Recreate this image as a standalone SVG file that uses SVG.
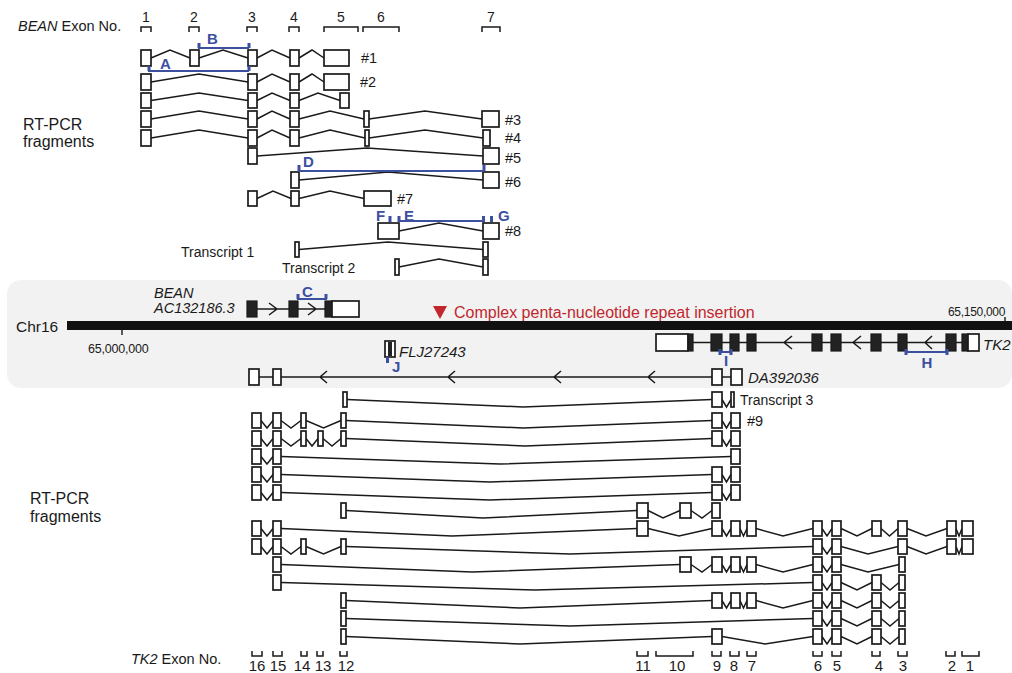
<svg xmlns="http://www.w3.org/2000/svg" width="1012" height="673" viewBox="0 0 1012 673">
<style>
.ex{fill:#fff;stroke:#1a1a1a;stroke-width:1.7}
.dk{fill:#222;stroke:#1a1a1a;stroke-width:1.2}
.in{fill:none;stroke:#1a1a1a;stroke-width:1.5}
.bl{fill:none;stroke:#3d4f9f;stroke-width:2}
.bk{fill:none;stroke:#3d4f9f;stroke-width:3}
.br{fill:none;stroke:#1a1a1a;stroke-width:1.5}
.t{font-family:"Liberation Sans",Arial,sans-serif;fill:#1a1a1a}
.i{font-style:italic}
.bt{font-family:"Liberation Sans",Arial,sans-serif;font-weight:bold;fill:#3d4f9f;font-size:15px}
</style>
<rect x="0" y="0" width="1012" height="673" fill="#fff"/>

<!-- top exon numbering -->
<g id="bean-exon-no">
<text class="t" x="18" y="31" font-size="14.5"><tspan class="i">BEAN</tspan> Exon No.</text>
<g class="t" font-size="14" text-anchor="middle">
<text x="146" y="22">1</text><text x="194" y="22">2</text><text x="252" y="22">3</text><text x="294" y="22">4</text><text x="341" y="22">5</text><text x="381" y="22">6</text><text x="491" y="22">7</text>
</g>
<path class="br" d="M141,32V27H151V32M189,32V27H199V32M247,32V27H257V32M289,32V27H299V32M324,32V27H358V32M363,32V27H399V32M482,32V27H500V32"/>
</g>

<g id="labels">
<text class="t" x="23" y="130" font-size="16">RT-PCR</text>
<text class="t" x="23" y="147" font-size="16">fragments</text>
<text class="t" x="30" y="504" font-size="16">RT-PCR</text>
<text class="t" x="30" y="522" font-size="16">fragments</text>
</g>

<!-- connectors (introns) -->
<g id="connectors" class="in">
<path d="M151,58L170,50L190,58M199,58L223,50L248,58M257,58L272,50L290,58M299,58L312,50L324,58"/>
<path d="M151,82L199,74L248,82M257,82L272,74L290,82M299,82L312,74L324,82"/>
<path d="M151,100.5L199,93L248,100.5M257,100.5L272,93L290,100.5M299,100.5L318,93L340,100.5"/>
<path d="M151,119L199,111L248,119M257,119L272,111L290,119M299,119L330,111L364,119M369,119L425,111L482,119"/>
<path d="M151,138L199,130L248,138M257,138L272,130L290,138M299,138L330,130L365,138M369,138L425,130L483,138"/>
<path d="M257,156L367,148L483,156"/>
<path d="M299,180L388,172L483,180"/>
<path d="M257,198.5L273,191L291,198.5M299,198.5L330,191L364,198.5"/>
<path d="M399,231L439,223L483,231"/>
<path d="M299,249.5L388,242L483,249.5"/>
<path d="M399,267L439,259L483,267"/>
<!-- lower -->
<path d="M347,399.5L523,407L712,399.5M722,399.5L726.5,407L731,399.5"/>
<path d="M261,420.5L267,428L273,420.5M281,420.5L291,428L301,420.5M306,420.5L323.5,428L341,420.5M346,420.5L523,428L712,420.5M722,420.5L726.5,428L731,420.5"/>
<path d="M261,438.5L267,446L273,438.5M281,438.5L291,446L301,438.5M306,438.5L312,446L318,438.5M323,438.5L332,446L341,438.5M346,438.5L525,446L712,438.5M722,438.5L726.5,446L731,438.5"/>
<path d="M261,456.5L267,464L273,456.5M281,456.5L500,464L731,456.5"/>
<path d="M261,474.5L267,482L273,474.5M281,474.5L490,482L712,474.5M722,474.5L726.5,482L731,474.5"/>
<path d="M261,492.5L267,500L273,492.5M281,492.5L490,500L712,492.5M722,492.5L726.5,500L731,492.5"/>
<path d="M346,510.5L483,518L637,510.5M648,510.5L663,518L680,510.5M691,510.5L702,518L712,510.5"/>
<path d="M261,528.5L267,536L273,528.5M281,528.5L452,536L637,528.5M648,528.5L679,536L712,528.5M722,528.5L726.5,536L731,528.5M740,528.5L743.5,536L747,528.5M756,528.5L783,536L813,528.5M822,528.5L827,536L832,528.5M841,528.5L857,536L872,528.5M881,528.5L889.5,536L898,528.5M907,528.5L926,536L947,528.5M956,528.5L959,536L962,528.5"/>
<path d="M261,546.5L267,554L273,546.5M281,546.5L291,554L301,546.5M306,546.5L323.5,554L341,546.5M346,546.5L570,554L813,546.5M822,546.5L827,554L832,546.5M841,546.5L868,554L898,546.5M907,546.5L926,554L947,546.5M956,546.5L959,554L962,546.5"/>
<path d="M281,564.5L472,572L680,564.5M691,564.5L702,572L712,564.5M722,564.5L726.5,572L731,564.5M740,564.5L743.5,572L747,564.5M756,564.5L783,572L813,564.5M822,564.5L827,572L832,564.5M841,564.5L868,572L899,564.5"/>
<path d="M281,582.5L535,590L813,582.5M822,582.5L827,590L832,582.5M841,582.5L857,590L872,582.5M881,582.5L890,590L899,582.5"/>
<path d="M346,600.5L520,608L712,600.5M722,600.5L726.5,608L731,600.5M740,600.5L743.5,608L747,600.5M756,600.5L783,608L813,600.5M822,600.5L827,608L832,600.5M841,600.5L857,608L872,600.5M881,600.5L890,608L899,600.5"/>
<path d="M346,618.5L570,626L813,618.5M822,618.5L827,626L832,618.5M841,618.5L857,626L872,618.5M881,618.5L890,626L899,618.5"/>
<path d="M346,636.5L520,644L712,636.5M722,636.5L765,644L813,636.5M822,636.5L827,644L832,636.5M841,636.5L857,644L872,636.5M881,636.5L890,644L899,636.5"/>
</g>

<!-- BEAN RT-PCR fragments -->
<g id="frag1" class="ex"><rect x="141" y="50" width="10" height="16"/><rect x="190" y="50" width="9" height="16"/><rect x="248" y="50" width="9" height="16"/><rect x="290" y="50" width="9" height="16"/><rect x="324" y="50" width="25" height="16"/></g>
<g id="frag2" class="ex"><rect x="141" y="74" width="10" height="16"/><rect x="248" y="74" width="9" height="16"/><rect x="290" y="74" width="9" height="16"/><rect x="324" y="74" width="25" height="16"/></g>
<g id="fragr3" class="ex"><rect x="141" y="93" width="10" height="15"/><rect x="248" y="93" width="9" height="15"/><rect x="290" y="93" width="9" height="15"/><rect x="340" y="93" width="9" height="15"/></g>
<g id="frag3" class="ex"><rect x="141" y="111" width="10" height="16"/><rect x="248" y="111" width="9" height="16"/><rect x="290" y="111" width="9" height="16"/><rect x="364" y="111" width="5" height="16"/><rect x="482" y="111" width="17" height="16"/></g>
<g id="frag4" class="ex"><rect x="141" y="130" width="10" height="16"/><rect x="248" y="130" width="9" height="16"/><rect x="290" y="130" width="9" height="16"/><rect x="365" y="130" width="4" height="16"/><rect x="483" y="130" width="7" height="16"/></g>
<g id="frag5" class="ex"><rect x="248" y="148" width="9" height="16"/><rect x="483" y="148" width="16" height="16"/></g>
<g id="frag6" class="ex"><rect x="291" y="172" width="8" height="16"/><rect x="483" y="172" width="16" height="16"/></g>
<g id="frag7" class="ex"><rect x="248" y="191" width="9" height="15"/><rect x="291" y="191" width="8" height="15"/><rect x="364" y="191" width="27" height="15"/></g>
<g id="frag8" class="ex"><rect x="378" y="223" width="21" height="16"/><rect x="483" y="223" width="16" height="16"/></g>
<g id="transcript1" class="ex"><rect x="295" y="242" width="4" height="15"/><rect x="483" y="242" width="5" height="15"/></g>
<g id="transcript2" class="ex"><rect x="395" y="259" width="4" height="16"/><rect x="483" y="259" width="5" height="16"/></g>

<g id="top-labels" class="t" font-size="14.5">
<text x="361" y="63">#1</text><text x="360" y="87">#2</text><text x="505" y="125">#3</text><text x="505" y="143">#4</text><text x="505" y="163">#5</text><text x="505" y="187">#6</text><text x="397" y="204">#7</text><text x="505" y="236">#8</text>
</g>
<g id="transcript-labels" class="t" font-size="14">
<text x="181" y="257">Transcript 1</text><text x="282" y="273">Transcript 2</text>
</g>

<!-- blue amplicons top -->
<g id="amplicons-top">
<path class="bl" d="M198,48H249M148,71H249M298,171H484M398,221H485"/>
<path class="bk" d="M199,43V48M249,43V48M149,66V71M249,66V71M299,165V171M484,165V171M390,216V222M399,216V222M483.5,216V222M491.5,216V222"/>
<text class="bt" x="160" y="69">A</text><text class="bt" x="207" y="44">B</text><text class="bt" x="303" y="167">D</text>
<text class="bt" x="376" y="221">F</text><text class="bt" x="404" y="221">E</text><text class="bt" x="498" y="221">G</text>
</g>

<!-- chromosome panel -->
<g id="chr-panel">
<rect x="7" y="280" width="1005" height="108" rx="14" fill="#f2f2f2"/>
<rect x="67" y="321" width="946" height="9" fill="#111"/>
<text class="t" x="16" y="332" font-size="15.5">Chr16</text>
<path d="M122,330V335M1005,317V321" stroke="#1a1a1a" stroke-width="1.4"/>
<text class="t" x="88" y="353" font-size="12.5" letter-spacing="-0.2">65,000,000</text>
<text class="t" x="948" y="316" font-size="12" letter-spacing="-0.3">65,150,000</text>
<polygon points="433,306 447,306 440,319" fill="#c1272d"/>
<text x="454" y="318" font-family="Liberation Sans, Arial, sans-serif" font-size="16" fill="#c1272d">Complex penta-nucleotide repeat insertion</text>
</g>

<g id="gene-BEAN">
<text class="t i" x="154" y="298" font-size="14.5">BEAN</text>
<text class="t i" x="154" y="313" font-size="14.5">AC132186.3</text>
<path class="in" d="M257,309H289M298,309H325M269,303L277,309L269,315M308,303L316,309L308,315"/>
<rect class="dk" x="247" y="301" width="10" height="16"/><rect class="dk" x="289" y="301" width="9" height="16"/><rect class="dk" x="325" y="301" width="7" height="16"/><rect class="ex" x="332" y="301" width="27" height="16"/>
<path class="bl" d="M297,299H327"/><path class="bk" d="M298,294V299M326,294V299"/>
<text class="bt" x="302" y="297">C</text>
</g>

<g id="gene-TK2">
<path class="in" d="M693,342.5H962M792,336L784,342.5L792,349M861,336L853,342.5L861,349M932,336L925,342.5L932,349"/>
<rect class="ex" x="656" y="334" width="32" height="17"/>
<rect class="dk" x="688" y="334" width="5" height="17"/>
<rect class="dk" x="711" y="334" width="11" height="17"/><rect class="dk" x="730" y="334" width="9" height="17"/><rect class="dk" x="747" y="334" width="9" height="17"/>
<rect class="dk" x="812" y="334" width="10" height="17"/><rect class="dk" x="831" y="334" width="10" height="17"/><rect class="dk" x="871" y="334" width="10" height="17"/>
<rect class="dk" x="898" y="334" width="9" height="17"/><rect class="dk" x="946" y="334" width="10" height="17"/><rect class="dk" x="962" y="334" width="6" height="17"/>
<rect class="ex" x="968" y="334" width="11" height="17"/>
<text class="t i" x="983" y="350" font-size="15">TK2</text>
<path class="bl" d="M719,352H732M905,352H948"/><path class="bk" d="M720,349V355M731,349V355M906,349V355M947,349V355"/>
<text class="bt" x="726" y="366" text-anchor="middle" font-size="13">I</text>
<text class="bt" x="927" y="368" text-anchor="middle">H</text>
</g>

<g id="gene-FLJ27243">
<rect class="ex" x="385" y="341" width="10" height="16"/><rect x="388" y="342" width="4" height="14" fill="#222"/>
<text class="t i" x="399" y="357" font-size="15">FLJ27243</text>
<path class="bk" d="M387.5,357V363"/>
<text class="bt" x="392" y="372" font-size="14">J</text>
</g>

<g id="gene-DA392036">
<path class="in" d="M259,377H273M281,377H712M722,377H731M327,371L320,377L327,383M455,371L448,377L455,383M561,371L554,377L561,383M655,371L648,377L655,383"/>
<rect class="ex" x="249" y="369" width="10" height="16"/><rect class="ex" x="273" y="369" width="8" height="16"/>
<rect class="ex" x="712" y="369" width="10" height="16"/><rect class="ex" x="731" y="369" width="11" height="16"/>
<text class="t i" x="748" y="383" font-size="15">DA392036</text>
</g>

<!-- TK2 RT-PCR fragments -->
<g id="transcript3" class="ex"><rect x="343" y="392" width="4" height="15"/><rect x="712" y="392" width="10" height="15"/><rect x="731" y="392" width="3" height="15"/></g>
<g id="frag9" class="ex"><rect x="252" y="413" width="9" height="15"/><rect x="273" y="413" width="8" height="15"/><rect x="301" y="413" width="5" height="15"/><rect x="341" y="413" width="5" height="15"/><rect x="712" y="413" width="10" height="15"/><rect x="731" y="413" width="9" height="15"/></g>
<g id="fragL3" class="ex"><rect x="252" y="431" width="9" height="15"/><rect x="273" y="431" width="8" height="15"/><rect x="301" y="431" width="5" height="15"/><rect x="318" y="431" width="5" height="15"/><rect x="341" y="431" width="5" height="15"/><rect x="712" y="431" width="10" height="15"/><rect x="731" y="431" width="9" height="15"/></g>
<g id="fragL4" class="ex"><rect x="252" y="449" width="9" height="15"/><rect x="273" y="449" width="8" height="15"/><rect x="731" y="449" width="9" height="15"/></g>
<g id="fragL5" class="ex"><rect x="252" y="467" width="9" height="15"/><rect x="273" y="467" width="8" height="15"/><rect x="712" y="467" width="10" height="15"/><rect x="731" y="467" width="9" height="15"/></g>
<g id="fragL6" class="ex"><rect x="252" y="485" width="9" height="15"/><rect x="273" y="485" width="8" height="15"/><rect x="712" y="485" width="10" height="15"/><rect x="731" y="485" width="9" height="15"/></g>
<g id="fragL7" class="ex"><rect x="341" y="503" width="5" height="15"/><rect x="637" y="503" width="11" height="15"/><rect x="680" y="503" width="11" height="15"/><rect x="712" y="503" width="8" height="15"/></g>
<g id="fragL8" class="ex"><rect x="252" y="521" width="9" height="15"/><rect x="273" y="521" width="8" height="15"/><rect x="637" y="521" width="11" height="15"/><rect x="712" y="521" width="10" height="15"/><rect x="731" y="521" width="9" height="15"/><rect x="747" y="521" width="9" height="15"/><rect x="813" y="521" width="9" height="15"/><rect x="832" y="521" width="9" height="15"/><rect x="872" y="521" width="9" height="15"/><rect x="898" y="521" width="9" height="15"/><rect x="947" y="521" width="9" height="15"/><rect x="962" y="521" width="11" height="15"/></g>
<g id="fragL9" class="ex"><rect x="252" y="539" width="9" height="15"/><rect x="273" y="539" width="8" height="15"/><rect x="301" y="539" width="5" height="15"/><rect x="341" y="539" width="5" height="15"/><rect x="813" y="539" width="9" height="15"/><rect x="832" y="539" width="9" height="15"/><rect x="898" y="539" width="9" height="15"/><rect x="947" y="539" width="9" height="15"/><rect x="962" y="539" width="11" height="15"/></g>
<g id="fragL10" class="ex"><rect x="273" y="557" width="8" height="15"/><rect x="680" y="557" width="11" height="15"/><rect x="712" y="557" width="10" height="15"/><rect x="731" y="557" width="9" height="15"/><rect x="747" y="557" width="9" height="15"/><rect x="813" y="557" width="9" height="15"/><rect x="832" y="557" width="9" height="15"/><rect x="899" y="557" width="6" height="15"/></g>
<g id="fragL11" class="ex"><rect x="273" y="575" width="8" height="15"/><rect x="813" y="575" width="9" height="15"/><rect x="832" y="575" width="9" height="15"/><rect x="872" y="575" width="9" height="15"/><rect x="899" y="575" width="6" height="15"/></g>
<g id="fragL12" class="ex"><rect x="341" y="593" width="5" height="15"/><rect x="712" y="593" width="10" height="15"/><rect x="731" y="593" width="9" height="15"/><rect x="747" y="593" width="9" height="15"/><rect x="813" y="593" width="9" height="15"/><rect x="832" y="593" width="9" height="15"/><rect x="872" y="593" width="9" height="15"/><rect x="899" y="593" width="6" height="15"/></g>
<g id="fragL13" class="ex"><rect x="341" y="611" width="5" height="15"/><rect x="813" y="611" width="9" height="15"/><rect x="832" y="611" width="9" height="15"/><rect x="872" y="611" width="9" height="15"/><rect x="899" y="611" width="6" height="15"/></g>
<g id="fragL14" class="ex"><rect x="341" y="629" width="5" height="15"/><rect x="712" y="629" width="10" height="15"/><rect x="813" y="629" width="9" height="15"/><rect x="832" y="629" width="9" height="15"/><rect x="872" y="629" width="9" height="15"/><rect x="899" y="629" width="6" height="15"/></g>

<g id="lower-labels" class="t" font-size="14">
<text x="740" y="405">Transcript 3</text>
<text x="747" y="426" font-size="14.5">#9</text>
</g>

<g id="tk2-exon-no">
<text class="t" x="131" y="664" font-size="14.5"><tspan class="i">TK2</tspan> Exon No.</text>
<path class="br" d="M252,651V656H262V651M273,651V656H282V651M301,651V656H307V651M317,651V656H323V651M340,651V656H347V651M637,651V656H648V651M656,651V656H693V651M712,651V656H721V651M730,651V656H739V651M747,651V656H756V651M813,651V656H822V651M832,651V656H841V651M872,651V656H880V651M898,651V656H907V651M946,651V656H955V651M962,651V656H979V651"/>
<g class="t" font-size="15" text-anchor="middle">
<text x="257" y="671">16</text><text x="278" y="671">15</text><text x="302" y="671">14</text><text x="323" y="671">13</text><text x="346" y="671">12</text>
<text x="643" y="671">11</text><text x="677" y="671">10</text><text x="717" y="671">9</text><text x="734" y="671">8</text><text x="752" y="671">7</text>
<text x="818" y="671">6</text><text x="837" y="671">5</text><text x="879" y="671">4</text><text x="903" y="671">3</text><text x="952" y="671">2</text><text x="970" y="671">1</text>
</g>
</g>
</svg>
